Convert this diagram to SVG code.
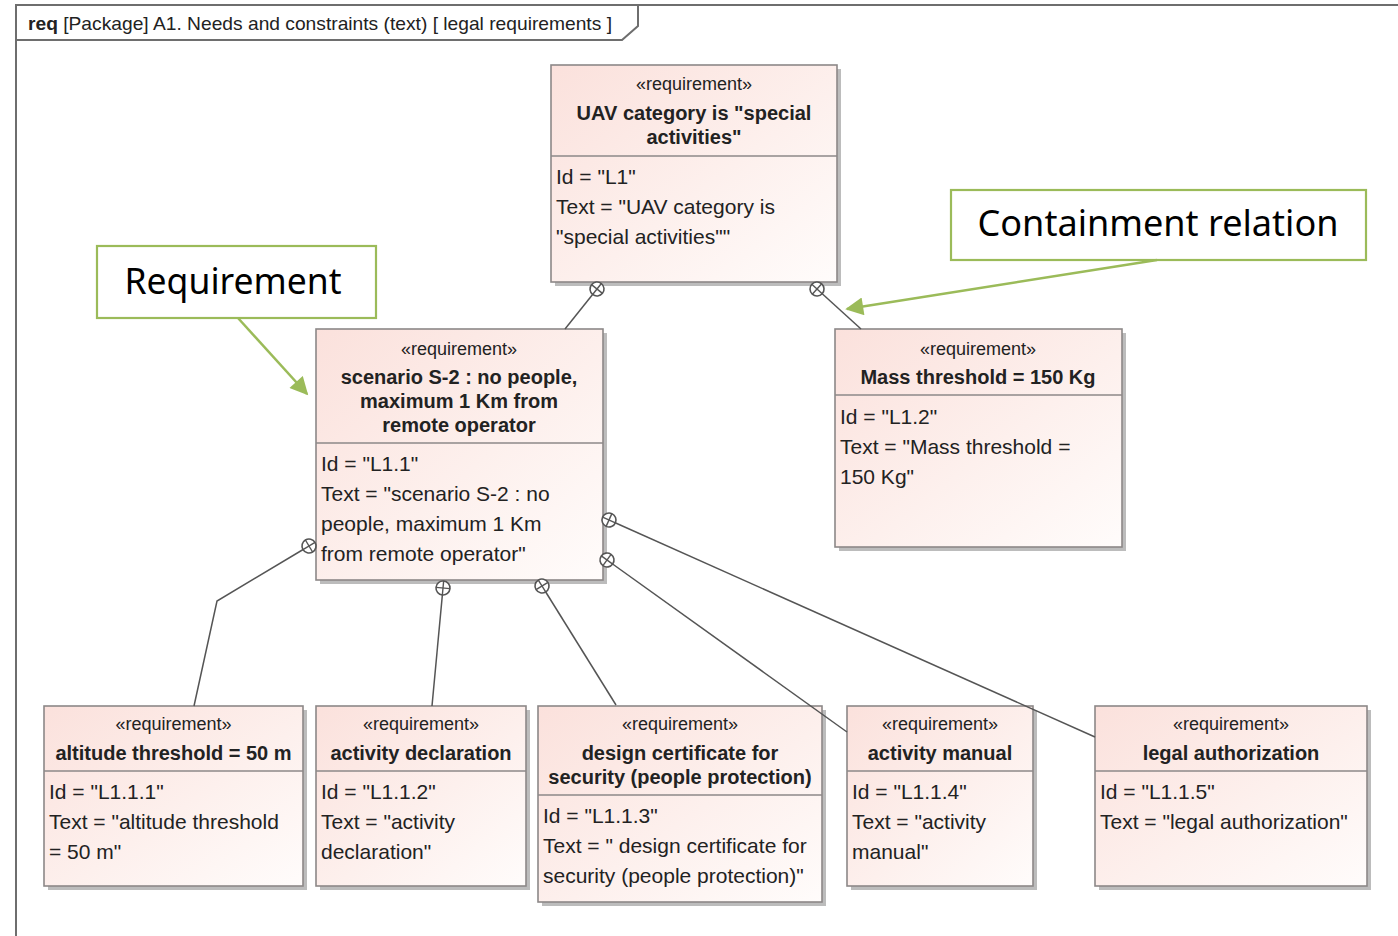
<svg xmlns="http://www.w3.org/2000/svg" width="1398" height="936" viewBox="0 0 1398 936">
  <style>
    .box { fill: url(#reqFill); stroke: #8c8888; stroke-width: 1.6; }
    .shadow { fill: #bcbcbc; }
    .sep { stroke: #8c8888; stroke-width: 1.4; }
    .st { font-family: "Liberation Sans", Arial, sans-serif; font-size: 18px; fill: #222; text-anchor: middle; }
    .nm { font-family: "Liberation Sans", Arial, sans-serif; font-size: 20px; font-weight: bold; fill: #222; text-anchor: middle; }
    .bd { font-family: "Liberation Sans", Arial, sans-serif; font-size: 21px; fill: #222; }
    .frame { fill: none; stroke: #6e6e6e; stroke-width: 2; }
    .ttl { font-family: "Liberation Sans", Arial, sans-serif; font-size: 19px; fill: #222; }
    .conn { fill: none; stroke: #555; stroke-width: 1.5; marker-start: url(#contain); }
    .note { fill: #fff; stroke: #9bbb59; stroke-width: 2.2; }
    .noteTxt { font-family: "Noto Sans", "Open Sans", sans-serif; font-size: 36px; fill: #000; text-anchor: middle; }
    .pointer { fill: none; stroke: #9bbb59; stroke-width: 2.5; marker-end: url(#greenHead); }
  </style>
  <defs>
    <linearGradient id="reqFill" x1="0" y1="0" x2="1" y2="1">
      <stop offset="0" stop-color="#fbe1dc"/>
      <stop offset="0.55" stop-color="#fdf0ed"/>
      <stop offset="1" stop-color="#fffcfb"/>
    </linearGradient>
    <!-- containment (owner end) symbol: circle with cross -->
    <marker id="contain" viewBox="-9 -9 18 18" markerWidth="18" markerHeight="18" refX="0" refY="0" orient="auto" markerUnits="userSpaceOnUse">
      <circle cx="0" cy="0" r="7" fill="#fff" stroke="#555" stroke-width="1.6"/>
      <line x1="-7" y1="0" x2="7" y2="0" stroke="#555" stroke-width="1.4"/>
      <line x1="0" y1="-7" x2="0" y2="7" stroke="#555" stroke-width="1.4"/>
    </marker>
    <marker id="greenHead" viewBox="0 0 10 10" markerWidth="20" markerHeight="18" refX="9" refY="5" orient="auto" markerUnits="userSpaceOnUse">
      <path d="M0,0 L10,5 L0,10 Z" fill="#9bbb59"/>
    </marker>
  </defs>

  <rect width="1398" height="936" fill="#fff"/>

  <!-- diagram frame with name tab -->
  <g id="frame">
    <path class="frame" d="M16,936 V5 H1398"/>
    <path class="frame" d="M16,40 H622 L638,26 V5" stroke-width="1.6"/>
    <text class="ttl" x="28" y="30" textLength="584" lengthAdjust="spacingAndGlyphs"><tspan font-weight="bold">req</tspan> [Package] A1. Needs and constraints (text) [ legal requirements ]</text>
  </g>

  <g id="L1">
    <rect class="shadow" x="555" y="69" width="286" height="217"/>
    <rect class="box" x="551" y="65" width="286" height="217"/>
    <line class="sep" x1="551" y1="156" x2="837" y2="156"/>
    <text class="st" x="694" y="90">«requirement»</text>
    <text class="nm" x="694" y="120">UAV category is "special</text>
    <text class="nm" x="694" y="144">activities"</text>
    <text class="bd" x="556" y="184">Id = "L1"</text>
    <text class="bd" x="556" y="214">Text = "UAV category is</text>
    <text class="bd" x="556" y="244">"special activities""</text>
  </g>

  <g id="L1.1">
    <rect class="shadow" x="320" y="333" width="287" height="251"/>
    <rect class="box" x="316" y="329" width="287" height="251"/>
    <line class="sep" x1="316" y1="443" x2="603" y2="443"/>
    <text class="st" x="459" y="355">«requirement»</text>
    <text class="nm" x="459" y="384">scenario S-2 : no people,</text>
    <text class="nm" x="459" y="408">maximum 1 Km from</text>
    <text class="nm" x="459" y="432">remote operator</text>
    <text class="bd" x="321" y="471">Id = "L1.1"</text>
    <text class="bd" x="321" y="501">Text = "scenario S-2 : no</text>
    <text class="bd" x="321" y="531">people, maximum 1 Km</text>
    <text class="bd" x="321" y="561">from remote operator"</text>
  </g>

  <g id="L1.2">
    <rect class="shadow" x="839" y="333" width="287" height="218"/>
    <rect class="box" x="835" y="329" width="287" height="218"/>
    <line class="sep" x1="835" y1="395" x2="1122" y2="395"/>
    <text class="st" x="978" y="355">«requirement»</text>
    <text class="nm" x="978" y="384">Mass threshold = 150 Kg</text>
    <text class="bd" x="840" y="424">Id = "L1.2"</text>
    <text class="bd" x="840" y="454">Text = "Mass threshold =</text>
    <text class="bd" x="840" y="484">150 Kg"</text>
  </g>

  <g id="L1.1.1">
    <rect class="shadow" x="48" y="710" width="259" height="180"/>
    <rect class="box" x="44" y="706" width="259" height="180"/>
    <line class="sep" x1="44" y1="771" x2="303" y2="771"/>
    <text class="st" x="173.5" y="730">«requirement»</text>
    <text class="nm" x="173.5" y="760">altitude threshold = 50 m</text>
    <text class="bd" x="49" y="799">Id = "L1.1.1"</text>
    <text class="bd" x="49" y="829">Text = "altitude threshold</text>
    <text class="bd" x="49" y="859">= 50 m"</text>
  </g>

  <g id="L1.1.2">
    <rect class="shadow" x="320" y="710" width="210" height="180"/>
    <rect class="box" x="316" y="706" width="210" height="180"/>
    <line class="sep" x1="316" y1="771" x2="526" y2="771"/>
    <text class="st" x="421" y="730">«requirement»</text>
    <text class="nm" x="421" y="760">activity declaration</text>
    <text class="bd" x="321" y="799">Id = "L1.1.2"</text>
    <text class="bd" x="321" y="829">Text = "activity</text>
    <text class="bd" x="321" y="859">declaration"</text>
  </g>

  <g id="L1.1.3">
    <rect class="shadow" x="542" y="710" width="284" height="196"/>
    <rect class="box" x="538" y="706" width="284" height="196"/>
    <line class="sep" x1="538" y1="795" x2="822" y2="795"/>
    <text class="st" x="680" y="730">«requirement»</text>
    <text class="nm" x="680" y="760">design certificate for</text>
    <text class="nm" x="680" y="784">security (people protection)</text>
    <text class="bd" x="543" y="823">Id = "L1.1.3"</text>
    <text class="bd" x="543" y="853">Text = " design certificate for</text>
    <text class="bd" x="543" y="883">security (people protection)"</text>
  </g>

  <g id="L1.1.4">
    <rect class="shadow" x="851" y="710" width="186" height="180"/>
    <rect class="box" x="847" y="706" width="186" height="180"/>
    <line class="sep" x1="847" y1="771" x2="1033" y2="771"/>
    <text class="st" x="940" y="730">«requirement»</text>
    <text class="nm" x="940" y="760">activity manual</text>
    <text class="bd" x="852" y="799">Id = "L1.1.4"</text>
    <text class="bd" x="852" y="829">Text = "activity</text>
    <text class="bd" x="852" y="859">manual"</text>
  </g>

  <g id="L1.1.5">
    <rect class="shadow" x="1099" y="710" width="272" height="180"/>
    <rect class="box" x="1095" y="706" width="272" height="180"/>
    <line class="sep" x1="1095" y1="771" x2="1367" y2="771"/>
    <text class="st" x="1231" y="730">«requirement»</text>
    <text class="nm" x="1231" y="760">legal authorization</text>
    <text class="bd" x="1100" y="799">Id = "L1.1.5"</text>
    <text class="bd" x="1100" y="829">Text = "legal authorization"</text>
  </g>

  <!-- containment connectors (circle at owner end), drawn over the boxes -->
  <g id="connectors">
    <path class="conn" d="M597,289 L565,329"/>
    <path class="conn" d="M817,289 L861,329"/>
    <path class="conn" d="M309,546 L217,601 L194,706"/>
    <path class="conn" d="M443,588 L432,706"/>
    <path class="conn" d="M542,586 L616,705"/>
    <path class="conn" d="M607,560 L847,732"/>
    <path class="conn" d="M609,520 L1095,737"/>
  </g>

  <!-- callout labels -->
  <g id="note-requirement">
    <rect class="note" x="97" y="246" width="279" height="72"/>
    <text class="noteTxt" x="233" y="294" textLength="217" lengthAdjust="spacingAndGlyphs">Requirement</text>
    <path class="pointer" d="M238,318 L307,394"/>
  </g>

  <g id="note-containment">
    <rect class="note" x="951" y="190" width="415" height="70"/>
    <text class="noteTxt" x="1158" y="236" textLength="361" lengthAdjust="spacingAndGlyphs">Containment relation</text>
    <path class="pointer" d="M1157,260 L847,309"/>
  </g>
</svg>
